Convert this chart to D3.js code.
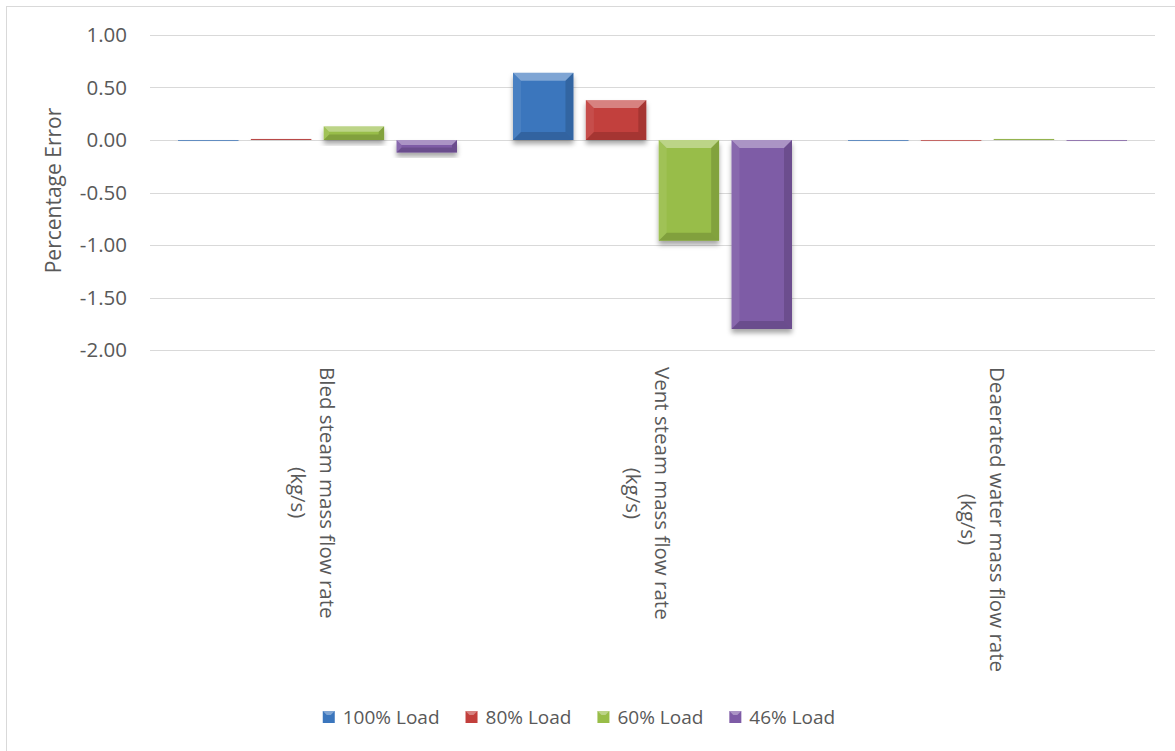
<!DOCTYPE html>
<html>
<head>
<meta charset="utf-8">
<script src="https://cdn.jsdelivr.net/npm/d3@7"></script>
<style>
  body { margin: 0; background: #fff; }
  svg { display: block; }
</style>
</head>
<body>
<svg id="chart"></svg>
<script>
// data
var categories = ["Bled steam mass flow rate (kg/s)", "Vent steam mass flow rate (kg/s)", "Deaerated water mass flow rate (kg/s)"];
var categoryLines = [["Bled steam mass flow rate", "(kg/s)"], ["Vent steam mass flow rate", "(kg/s)"], ["Deaerated water mass flow rate", "(kg/s)"]];
var seriesNames = ["100% Load", "80% Load", "60% Load", "46% Load"];
var load100 = [-0.004, 0.64, -0.004];
var load80 = [0.01, 0.38, -0.004];
var load60 = [0.13, -0.96, 0.01];
var load46 = [-0.12, -1.80, -0.004];
var yTicks = [1, 0.5, 0, -0.5, -1, -1.5, -2];
var seriesColors = ["#3b76bd", "#c23f3c", "#98bd48", "#7e5ba6"];

var allSeries = [load100, load80, load60, load46];

var W = 1175, H = 751;
var plotLeft = 150, plotRight = 1155, plotTop = 35, plotBottom = 350;
var font = "'Open Sans', sans-serif";
var textColor = "#595959";

var svg = d3.select('#chart').attr('width', W).attr('height', H);

var defs = svg.append('defs');
var shadow = defs.append('filter').attr('id', 'shadow')
  .attr('x', '-20%').attr('y', '-20%').attr('width', '140%').attr('height', '160%');
shadow.append('feDropShadow')
  .attr('dx', 0).attr('dy', 4).attr('stdDeviation', 2.5)
  .attr('flood-color', '#000').attr('flood-opacity', 0.35);

// chart border
svg.append('rect')
  .attr('x', 6.5).attr('y', 6.5)
  .attr('width', W).attr('height', H)
  .attr('fill', 'none').attr('stroke', '#d9d9d9');

var y = d3.scaleLinear().domain([-2, 1]).range([plotBottom, plotTop]);
var x0 = d3.scaleBand().domain(categories).range([plotLeft, plotRight]);
var x1 = d3.scaleBand().domain(seriesNames)
  .range([28, x0.bandwidth() - 28]).paddingInner(0.17);

// gridlines
svg.append('g').selectAll('line')
  .data(yTicks)
  .join('line')
  .attr('x1', plotLeft).attr('x2', plotRight)
  .attr('y1', function(d) { return Math.round(y(d)) + 0.5; })
  .attr('y2', function(d) { return Math.round(y(d)) + 0.5; })
  .attr('stroke', '#d9d9d9').attr('stroke-width', 1);

// y tick labels (plain hyphen for negatives, as in the original)
svg.append('g').selectAll('text')
  .data(yTicks)
  .join('text')
  .attr('x', 127)
  .attr('y', function(d) { return y(d); })
  .attr('dy', '0.35em')
  .attr('text-anchor', 'end')
  .attr('font-family', font).attr('font-size', '20.5px')
  .attr('fill', textColor)
  .text(function(d) { return d.toFixed(2); });

// y axis title
svg.append('text')
  .attr('transform', 'translate(61,' + ((plotTop + plotBottom) / 2 - 2) + ') rotate(-90)')
  .attr('text-anchor', 'middle')
  .attr('font-family', font).attr('font-size', '21px')
  .attr('fill', textColor)
  .text('Percentage Error');

// bars with bevel
var barData = [];
categories.forEach(function(c, i) {
  seriesNames.forEach(function(s, j) {
    barData.push({ cat: c, series: s, value: allSeries[j][i], color: seriesColors[j] });
  });
});

var bars = svg.append('g').selectAll('g')
  .data(barData)
  .join('g')
  .attr('filter', 'url(#shadow)');

bars.each(function(d) {
  var g = d3.select(this);
  var bx = x0(d.cat) + x1(d.series);
  var bw = x1.bandwidth();
  var by = Math.min(y(d.value), y(0));
  var bh = Math.max(Math.abs(y(d.value) - y(0)), 0.8);
  var b = Math.min(8, bh / 2.5, bw / 2);

  g.append('rect')
    .attr('x', bx).attr('y', by)
    .attr('width', bw).attr('height', bh)
    .attr('fill', d.color);

  var pts = [
    { p: [[bx, by], [bx + bw, by], [bx + bw - b, by + b], [bx + b, by + b]], fill: '#fff', op: 0.35 },
    { p: [[bx, by], [bx + b, by + b], [bx + b, by + bh - b], [bx, by + bh]], fill: '#fff', op: 0.08 },
    { p: [[bx + bw, by], [bx + bw, by + bh], [bx + bw - b, by + bh - b], [bx + bw - b, by + b]], fill: '#000', op: 0.14 },
    { p: [[bx, by + bh], [bx + bw, by + bh], [bx + bw - b, by + bh - b], [bx + b, by + bh - b]], fill: '#000', op: 0.15 }
  ];
  g.selectAll('polygon')
    .data(pts)
    .join('polygon')
    .attr('points', function(q) { return q.p.map(function(pt) { return pt.join(','); }).join(' '); })
    .attr('fill', function(q) { return q.fill; })
    .attr('fill-opacity', function(q) { return q.op; });
});

// category labels, rotated
var catG = svg.append('g').selectAll('g')
  .data(categories)
  .join('g');

catG.each(function(c, i) {
  var g = d3.select(this);
  var cx = x0(c) + x0.bandwidth() / 2;
  var lines = categoryLines[i];
  var t = g.append('g')
    .attr('transform', 'translate(' + cx + ',367) rotate(90)');
  var texts = t.selectAll('text')
    .data(lines)
    .join('text')
    .attr('font-family', font).attr('font-size', '20.5px')
    .attr('fill', textColor)
    .attr('text-anchor', 'middle')
    .attr('y', function(d, k) { return -2 + k * 29; })
    .text(function(d) { return d; });
  var wmax = 0;
  texts.each(function() { wmax = Math.max(wmax, this.getComputedTextLength()); });
  texts.attr('x', wmax / 2);
});

// legend
var legend = svg.append('g');
var items = legend.selectAll('g')
  .data(seriesNames)
  .join('g');
items.append('rect')
  .attr('width', 12).attr('height', 12)
  .attr('y', -13)
  .attr('fill', function(d, i) { return seriesColors[i]; });
items.append('polygon')
  .attr('points', '0,-13 12,-13 8,-9 4,-9')
  .attr('fill', '#fff').attr('fill-opacity', 0.35);
items.append('text')
  .attr('x', 20)
  .attr('y', 0)
  .attr('font-family', font).attr('font-size', '19px')
  .attr('fill', textColor)
  .text(function(d) { return d; });

var lx = 0;
var widths = [];
items.each(function() {
  var w = d3.select(this).select('text').node().getComputedTextLength() + 20;
  widths.push(w);
});
var totalW = d3.sum(widths) + 26 * (widths.length - 1);
lx = 579 - totalW / 2;
items.attr('transform', function(d, i) {
  var tx = lx;
  lx += widths[i] + 26;
  return 'translate(' + tx + ',724)';
});
</script>
</body>
</html>
